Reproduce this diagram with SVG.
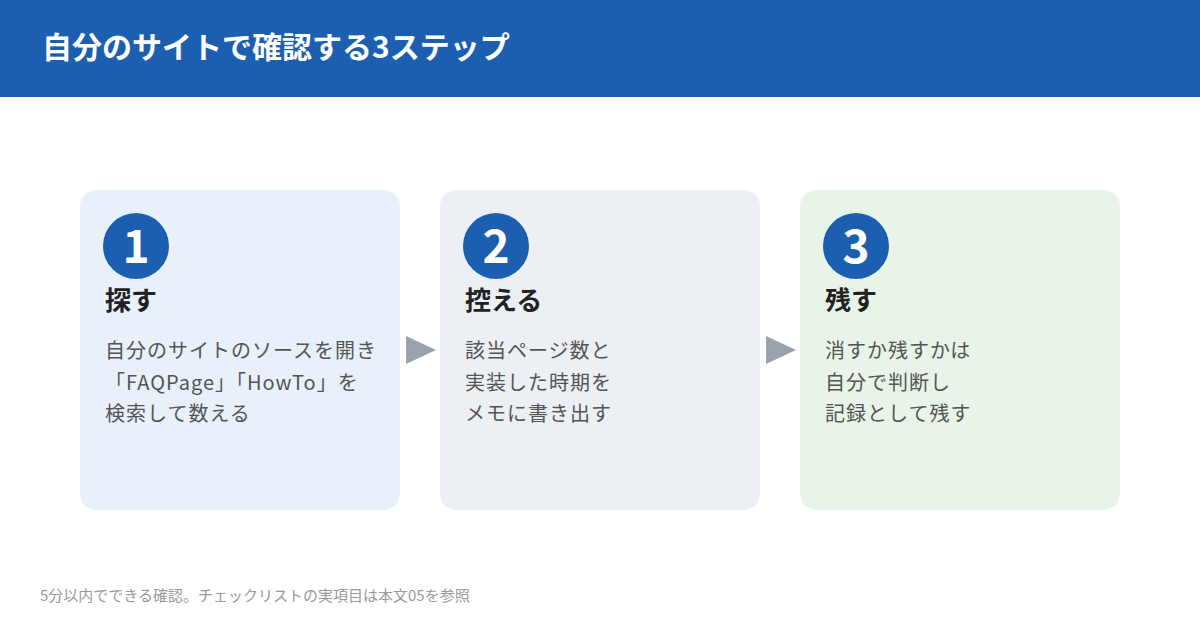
<svg xmlns="http://www.w3.org/2000/svg" width="1200" height="630" viewBox="0 0 1200 630">
<style>
text{font-family:"Noto Sans CJK JP","Noto Sans",sans-serif}
.num{fill:#fff;font-size:46px;font-weight:700;text-anchor:middle}
.h{fill:#222;font-size:26px;font-weight:700}
.b{fill:#555;font-size:20px;letter-spacing:1px}
.c{fill:#1c5fb0}
.arr{fill:#9aa3ad}
</style>
<rect width="1200" height="630" fill="#fff"/>
<rect width="1200" height="97" fill="#1c5fb0"/>
<text x="42" y="58" fill="#fff" font-size="30" font-weight="700">自分のサイトで確認する3ステップ</text>
<g id="step1">
<rect x="80" y="190" width="320" height="320" rx="16" fill="#e8f0fa"/>
<circle class="c" cx="136" cy="246" r="33"/>
<text class="num" x="136" y="263">1</text>
<text class="h" x="105" y="310">探す</text>
<text class="b" x="105" y="358">自分のサイトのソースを開き</text>
<text class="b" x="105" y="390">「FAQPage」「HowTo」を</text>
<text class="b" x="105" y="421">検索して数える</text>
</g>
<g id="step2">
<rect x="440" y="190" width="320" height="320" rx="16" fill="#eceff3"/>
<circle class="c" cx="496" cy="246" r="33"/>
<text class="num" x="496" y="263">2</text>
<text class="h" x="465" y="310">控える</text>
<text class="b" x="465" y="358">該当ページ数と</text>
<text class="b" x="465" y="390">実装した時期を</text>
<text class="b" x="465" y="421">メモに書き出す</text>
</g>
<g id="step3">
<rect x="800" y="190" width="320" height="320" rx="16" fill="#e8f4e8"/>
<circle class="c" cx="856" cy="246" r="33"/>
<text class="num" x="856" y="263">3</text>
<text class="h" x="825" y="310">残す</text>
<text class="b" x="825" y="358">消すか残すかは</text>
<text class="b" x="825" y="390">自分で判断し</text>
<text class="b" x="825" y="421">記録として残す</text>
</g>
<g id="connectors">
<polygon class="arr" points="406,336 436,350 406,364"/>
<polygon class="arr" points="766,336 796,350 766,364"/>
</g>
<text x="40" y="601" fill="#999" font-size="15">5分以内でできる確認。チェックリストの実項目は本文05を参照</text>
</svg>
